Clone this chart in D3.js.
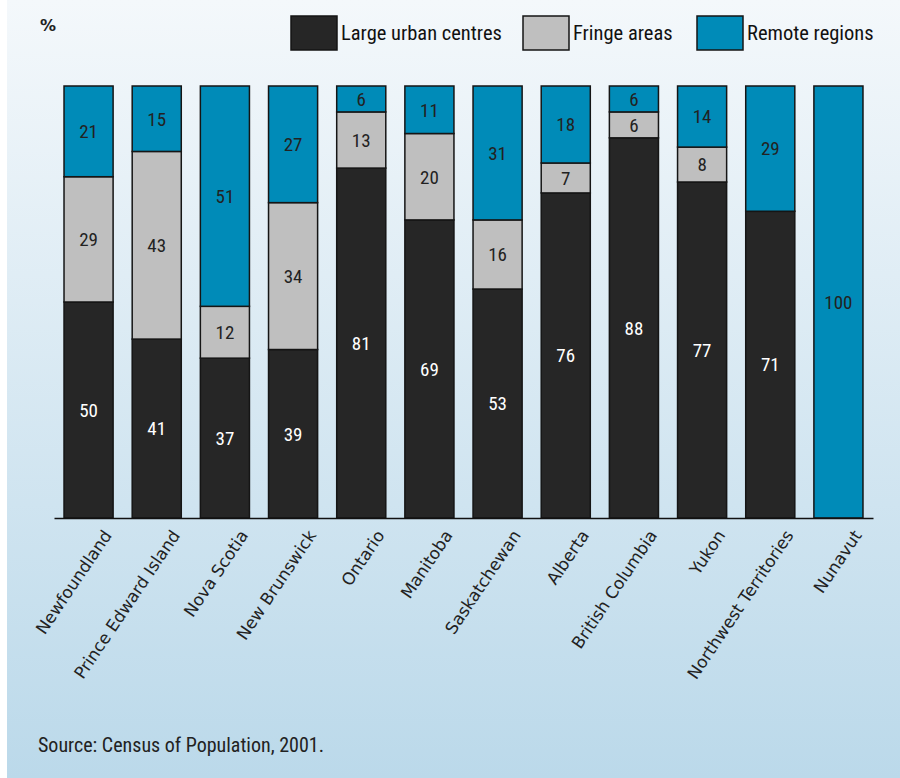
<!DOCTYPE html>
<html>
<head>
<meta charset="utf-8">
<script src="https://cdn.jsdelivr.net/npm/d3@7"></script>
<style>
  html, body { margin: 0; padding: 0; background: #ffffff; }
  svg { display: block; }
</style>
</head>
<body>
<svg id="chart" width="900" height="778"></svg>
<script>
const categories = ["Newfoundland", "Prince Edward Island", "Nova Scotia", "New Brunswick", "Ontario", "Manitoba", "Saskatchewan", "Alberta", "British Columbia", "Yukon", "Northwest Territories", "Nunavut"];
const seriesNames = ["Large urban centres", "Fringe areas", "Remote regions"];
const largeUrban = [50, 41, 37, 39, 81, 69, 53, 76, 88, 77, 71, 0];
const fringe =     [29, 43, 12, 34, 13, 20, 16, 7, 6, 8, 0, 0];
const remote =     [21, 15, 51, 27, 6, 11, 31, 18, 6, 14, 29, 100];
const colors = ["#262626", "#bfbfbf", "#008bb8"];
const labelColors = ["#ffffff", "#222222", "#222222"];
const yAxisLabel = "%";
const sourceText = "Source: Census of Population, 2001.";

const svg = d3.select("#chart");
const W = 900, H = 778;

const defs = svg.append("defs");
const grad = defs.append("linearGradient").attr("id", "bg").attr("x1", 0).attr("y1", 0).attr("x2", 0).attr("y2", 1);
grad.append("stop").attr("offset", "0%").attr("stop-color", "#f4f8fb");
grad.append("stop").attr("offset", "100%").attr("stop-color", "#bbd9ea");
svg.append("rect").attr("x", 7).attr("y", 0).attr("width", W - 7).attr("height", H).attr("fill", "url(#bg)");

const table = categories.map((c, i) => ({ cat: c, s0: largeUrban[i], s1: fringe[i], s2: remote[i] }));
const stack = d3.stack().keys(["s0", "s1", "s2"]).offset(d3.stackOffsetExpand);
const stacked = stack(table);

const x = d3.scaleBand().domain(categories).range([54, 873]).paddingInner(0.28).paddingOuter(0.147);
const y = d3.scaleLinear().domain([0, 1]).range([518, 86]);

const condensed = "'Roboto Condensed', 'Liberation Sans Narrow', 'Arial Narrow', sans-serif";

const layers = svg.append("g").selectAll("g").data(stacked).join("g");
layers.each(function(layer, li) {
  const g = d3.select(this);
  layer.forEach((d, i) => {
    const v = [largeUrban, fringe, remote][li][i];
    if (v <= 0) return;
    g.append("rect")
      .attr("x", x(categories[i]))
      .attr("y", y(d[1]))
      .attr("width", x.bandwidth())
      .attr("height", y(d[0]) - y(d[1]))
      .attr("fill", colors[li])
      .attr("stroke", "#151515")
      .attr("stroke-width", 1.5);
    g.append("text")
      .attr("x", x(categories[i]) + x.bandwidth() / 2)
      .attr("y", (y(d[0]) + y(d[1])) / 2)
      .attr("dy", "0.36em")
      .attr("text-anchor", "middle")
      .attr("font-family", condensed)
      .attr("font-size", 19)
      .attr("fill", labelColors[li])
      .text(v);
  });
});

const xAxis = d3.axisBottom(x).tickSize(0).tickPadding(0);
const ax = svg.append("g").attr("transform", `translate(0,${y(0)})`).call(xAxis);
ax.select(".domain").attr("stroke", "#111").attr("stroke-width", 1.5);
ax.selectAll(".tick text")
  .attr("font-family", "'DejaVu Sans', sans-serif")
  .attr("font-size", 16.8)
  .attr("fill", "#222")
  .attr("text-anchor", "end")
  .attr("transform", "translate(19,14) rotate(-56)")
  .attr("dy", "0.35em")
  .attr("y", 0);

svg.append("text").attr("x", 40).attr("y", 31)
  .attr("font-family", "'DejaVu Sans', sans-serif").attr("font-weight", "bold")
  .attr("font-size", 16).attr("fill", "#222").text(yAxisLabel);

const legendX = [291, 523, 697];
const lg = svg.append("g");
seriesNames.forEach((n, i) => {
  lg.append("rect").attr("x", legendX[i]).attr("y", 16).attr("width", 46).attr("height", 34)
    .attr("fill", colors[i]).attr("stroke", "#151515").attr("stroke-width", 1.5);
  lg.append("text").attr("x", legendX[i] + 50).attr("y", 40)
    .attr("font-family", condensed).attr("font-size", 20.5).attr("fill", "#111").text(n);
});

svg.append("text").attr("x", 38).attr("y", 752)
  .attr("font-family", condensed).attr("font-size", 20).attr("fill", "#222").text(sourceText);
</script>
</body>
</html>
